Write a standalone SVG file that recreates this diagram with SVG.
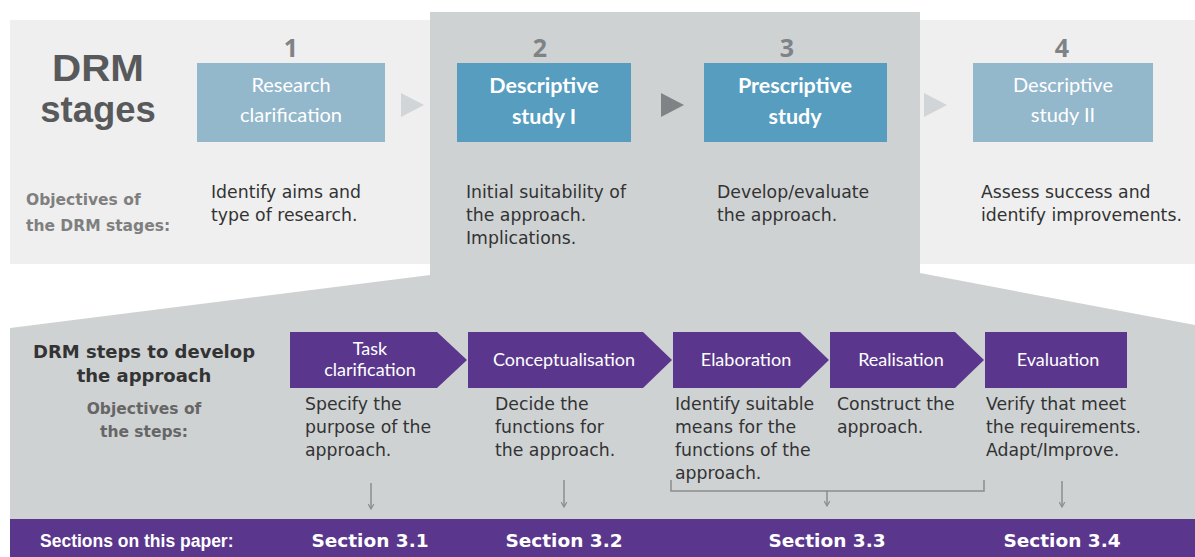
<svg xmlns="http://www.w3.org/2000/svg" width="1195" height="557" viewBox="0 0 1195 557">
<defs>
<style>
.stageBox{fill:#93b7cb}
.stageBoxA{fill:#569dc0}
.num{font-family:"Open Sans","Liberation Sans",sans-serif;font-weight:bold;font-size:25px;fill:#7f8386;text-anchor:middle}
.boxT{font-family:Lato,"Liberation Sans",sans-serif;font-size:20px;fill:#ffffff;text-anchor:middle}
.boxTB{font-family:Lato,"Liberation Sans",sans-serif;font-weight:bold;font-size:21.5px;fill:#ffffff;text-anchor:middle}
.body{font-family:"DejaVu Sans",sans-serif;font-size:17.3px;fill:#333333}
.gray{font-family:"DejaVu Sans",sans-serif;font-weight:bold;font-size:15.5px;fill:#7f7f7f}
.gray2{font-family:"DejaVu Sans",sans-serif;font-weight:bold;font-size:15.5px;fill:#666666;text-anchor:middle}
.title{font-family:"Liberation Sans",sans-serif;font-weight:bold;font-size:36.5px;fill:#58595b;text-anchor:middle}
.chev{fill:#5a378d}
.chevT{font-family:Lato,"Liberation Sans",sans-serif;font-size:18px;fill:#ffffff;text-anchor:middle}
.sec{font-family:"DejaVu Sans",sans-serif;font-weight:bold;font-size:18.5px;fill:#ffffff;text-anchor:middle}
.conn{stroke:#8c8c8c;stroke-width:1.5;fill:none}
</style>
<marker id="ah" viewBox="0 0 10 10" refX="9" refY="5" markerWidth="7" markerHeight="7" orient="auto" markerUnits="userSpaceOnUse">
<path d="M2,1 L9,5 L2,9" fill="none" stroke="#8c8c8c" stroke-width="1.6"/>
</marker>
</defs>

<g id="background">
<rect x="10" y="20" width="1185" height="244" fill="#efefef"/>
<polygon points="430,12 920,12 920,273 1195,325 1195,557 10,557 10,328 430,275" fill="#cfd2d3"/>
<rect x="10" y="519" width="1185" height="38" fill="#5a378d"/>
</g>

<g id="title">
<text class="title" x="98" y="81" textLength="92" lengthAdjust="spacingAndGlyphs">DRM</text>
<text class="title" x="98" y="122">stages</text>
<text class="gray" x="26" y="205">Objectives of</text>
<text class="gray" x="26" y="231">the DRM stages:</text>
</g>

<g id="stage1">
<text class="num" x="291" y="57">1</text>
<rect class="stageBox" x="197" y="63" width="188" height="79"/>
<text class="boxT" x="291" y="92">Research</text>
<text class="boxT" x="291" y="122">clarification</text>
<text class="body" x="211" y="198">Identify aims and</text>
<text class="body" x="211" y="221">type of research.</text>
</g>

<g id="stage2">
<text class="num" x="540" y="57">2</text>
<rect class="stageBoxA" x="457" y="63" width="174" height="79"/>
<text class="boxTB" x="544" y="93">Descriptive</text>
<text class="boxTB" x="544" y="124">study I</text>
<text class="body" x="466" y="198">Initial suitability of</text>
<text class="body" x="466" y="221">the approach.</text>
<text class="body" x="466" y="244">Implications.</text>
</g>

<g id="stage3">
<text class="num" x="787" y="57">3</text>
<rect class="stageBoxA" x="704" y="63" width="183" height="79"/>
<text class="boxTB" x="795" y="93">Prescriptive</text>
<text class="boxTB" x="795" y="124">study</text>
<text class="body" x="717" y="198">Develop/evaluate</text>
<text class="body" x="717" y="221">the approach.</text>
</g>

<g id="stage4">
<text class="num" x="1062" y="57">4</text>
<rect class="stageBox" x="973" y="63" width="180" height="79"/>
<text class="boxT" x="1063" y="92">Descriptive</text>
<text class="boxT" x="1063" y="122">study II</text>
<text class="body" x="981" y="198">Assess success and</text>
<text class="body" x="981" y="221">identify improvements.</text>
</g>

<g id="stageArrows">
<polygon points="401,93 424,105 401,117" fill="#d2d5d7"/>
<polygon points="661,93 684,105 661,117" fill="#7e8486"/>
<polygon points="924,93 947,105 924,117" fill="#d2d5d7"/>
</g>

<g id="stepsLabel">
<text x="144" y="358" font-family="DejaVu Sans,sans-serif" font-weight="bold" font-size="18" fill="#333333" text-anchor="middle">DRM steps to develop</text>
<text x="144" y="382" font-family="DejaVu Sans,sans-serif" font-weight="bold" font-size="18" fill="#333333" text-anchor="middle">the approach</text>
<text class="gray2" x="144" y="414">Objectives of</text>
<text class="gray2" x="144" y="437">the steps:</text>
</g>

<g id="step1">
<path class="chev" d="M290,332 H437 L467,360 L437,388 H290 Z"/>
<text class="chevT" x="370" y="355">Task</text>
<text class="chevT" x="370" y="376">clarification</text>
<text class="body" x="305" y="410">Specify the</text>
<text class="body" x="305" y="433">purpose of the</text>
<text class="body" x="305" y="456">approach.</text>
</g>

<g id="step2">
<path class="chev" d="M468,332 H643 L672,360 L643,388 H468 Z"/>
<text class="chevT" x="564" y="366">Conceptualisation</text>
<text class="body" x="495" y="410">Decide the</text>
<text class="body" x="495" y="433">functions for</text>
<text class="body" x="495" y="456">the approach.</text>
</g>

<g id="step3">
<path class="chev" d="M673,332 H800 L829,360 L800,388 H673 Z"/>
<text class="chevT" x="746" y="366">Elaboration</text>
<text class="body" x="675" y="410">Identify suitable</text>
<text class="body" x="675" y="433">means for the</text>
<text class="body" x="675" y="456">functions of the</text>
<text class="body" x="675" y="479">approach.</text>
</g>

<g id="step4">
<path class="chev" d="M830,332 H955 L984,360 L955,388 H830 Z"/>
<text class="chevT" x="901" y="366">Realisation</text>
<text class="body" x="837" y="410">Construct the</text>
<text class="body" x="837" y="433">approach.</text>
</g>

<g id="step5">
<rect class="chev" x="985" y="332" width="142" height="56"/>
<text class="chevT" x="1058" y="366">Evaluation</text>
<text class="body" x="986" y="410">Verify that meet</text>
<text class="body" x="986" y="433">the requirements.</text>
<text class="body" x="986" y="456">Adapt/Improve.</text>
</g>

<g id="connectors">
<line class="conn" x1="371" y1="483" x2="371" y2="509" marker-end="url(#ah)"/>
<line class="conn" x1="564" y1="480" x2="564" y2="507" marker-end="url(#ah)"/>
<polyline class="conn" points="671,480 671,491 984,491 984,480"/>
<line class="conn" x1="827" y1="491" x2="827" y2="506" marker-end="url(#ah)"/>
<line class="conn" x1="1062" y1="481" x2="1062" y2="507" marker-end="url(#ah)"/>
</g>

<g id="sections">
<text x="40" y="547" font-family="Liberation Sans,sans-serif" font-weight="bold" font-size="17.5" fill="#ffffff">Sections on this paper:</text>
<text class="sec" x="370" y="547">Section 3.1</text>
<text class="sec" x="564" y="547">Section 3.2</text>
<text class="sec" x="827" y="547">Section 3.3</text>
<text class="sec" x="1062" y="547">Section 3.4</text>
</g>
</svg>
